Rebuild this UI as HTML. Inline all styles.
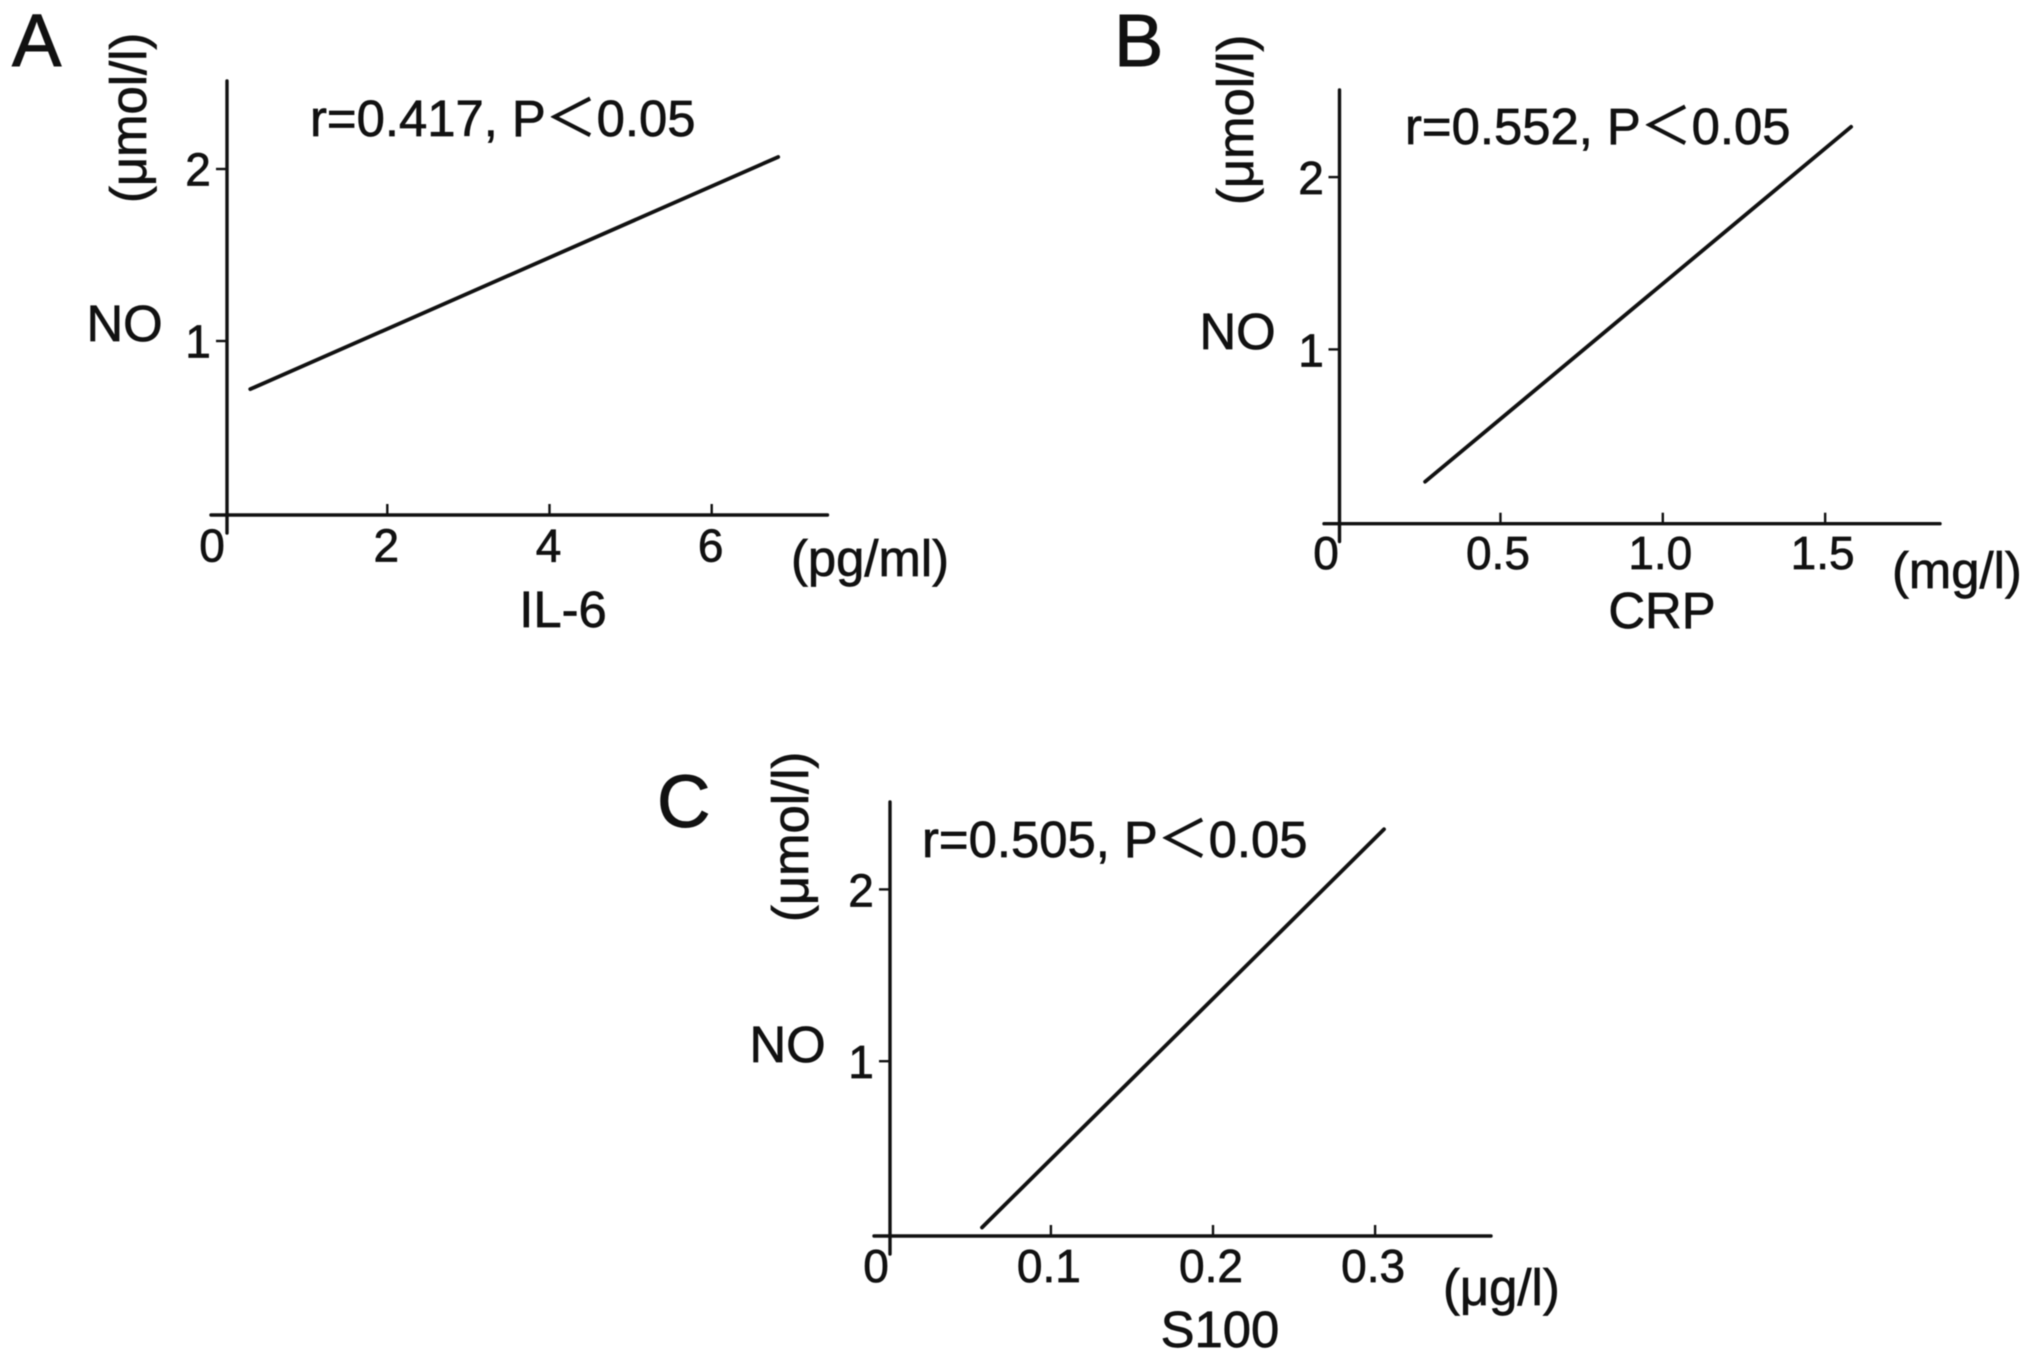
<!DOCTYPE html>
<html lang="en">
<head>
<meta charset="utf-8">
<title>NO correlation with IL-6, CRP and S100</title>
<style>
  html, body { margin: 0; padding: 0; background: #fff; }
  #figure { display: block; width: 2031px; height: 1361px; filter: blur(0.6px); }
  text { font-family: "Liberation Sans", "Noto Sans CJK SC", sans-serif; fill: #111; stroke: #111; stroke-width: 0.7; font-size: 50.8px; }
  .tick-text { font-size: 46px; text-anchor: middle; }
  .letter { font-size: 74px; stroke-width: 1; }
  .axis { stroke: #111; stroke-width: 3.4; fill: none; stroke-linecap: round; }
  .tick { stroke: #111; stroke-width: 2.4; fill: none; }
  .fit { stroke: #111; stroke-width: 3.8; fill: none; stroke-linecap: round; }
</style>
</head>
<body>
<svg id="figure" xmlns="http://www.w3.org/2000/svg" width="2031" height="1361" viewBox="0 0 2031 1361">
  <rect width="2031" height="1361" fill="#fff"/>

  <g id="panel-a">
    <text class="letter" x="12" y="66">A</text>
    <text transform="translate(146,203) rotate(-90)">(μmol/l)</text>
    <text x="86.5" y="341">NO</text>
    <text x="791" y="576">(pg/ml)</text>
    <text x="563" y="627" text-anchor="middle">IL-6</text>
    <text x="310" y="136">r=0.417, P＜0.05</text>
  </g>

  <g id="panel-b">
    <text class="letter" x="1114" y="66">B</text>
    <text transform="translate(1253,205) rotate(-90)">(μmol/l)</text>
    <text x="1199.5" y="349">NO</text>
    <text x="1892" y="588">(mg/l)</text>
    <text x="1662" y="628" text-anchor="middle">CRP</text>
    <text x="1405" y="144">r=0.552, P＜0.05</text>
  </g>

  <g id="panel-c">
    <text class="letter" x="657" y="827">C</text>
    <text transform="translate(808,922) rotate(-90)">(μmol/l)</text>
    <text x="749.5" y="1062">NO</text>
    <text x="1443" y="1305">(μg/l)</text>
    <text x="1220" y="1347" text-anchor="middle">S100</text>
    <text x="922" y="857">r=0.505, P＜0.05</text>
  </g>
</svg>

<script>
// Chart values
var aXTicks = [2, 4, 6];
var aXTickLabels = ['2', '4', '6'];
var aYTicks = [1, 2];
var aYTickLabels = ['1', '2'];
var aFitX = [0.31, 6.82];
var aFitY = [0.72, 2.07];

var bXTicks = [0.5, 1.0, 1.5];
var bXTickLabels = ['0.5', '1.0', '1.5'];
var bYTicks = [1, 2];
var bYTickLabels = ['1', '2'];
var bFitX = [0.268, 1.58];
var bFitY = [0.232, 2.292];

var cXTicks = [0.1, 0.2, 0.3];
var cXTickLabels = ['0.1', '0.2', '0.3'];
var cYTicks = [1, 2];
var cYTickLabels = ['1', '2'];
var cFitX = [0.0575, 0.3055];
var cFitY = [0.032, 2.35];

var SVG_NS = 'http://www.w3.org/2000/svg';

function make(tag, parent, attrs) {
  var el = document.createElementNS(SVG_NS, tag);
  for (var k in attrs) el.setAttribute(k, attrs[k]);
  parent.appendChild(el);
  return el;
}

function drawPanel(groupId, frame, xTicks, xLabels, yTicks, yLabels, fitX, fitY) {
  var group = document.getElementById(groupId);
  var xScale = function (v) { return frame.x0 + v * frame.xUnit; };
  var yScale = function (v) { return frame.y0 - v * frame.yUnit; };

  var yAxis = make('line', group, { x1: frame.axisX, x2: frame.axisX, y1: frame.axisTop, y2: frame.axisBottom, 'class': 'axis' });
  
  

  var xAxis = make('line', group, { x1: frame.axisLeft, x2: frame.axisRight, y1: frame.axisY, y2: frame.axisY, 'class': 'axis' });
  
  

  xTicks.forEach(function (v, i) {
    var tick = make('line', group, { x1: xScale(v), x2: xScale(v), y1: frame.axisY, y2: frame.axisY - 11, 'class': 'tick' });
    
    
    var label = make('text', group, { x: xScale(v) + frame.xLabelDx, y: frame.xLabelY, 'class': 'tick-text' });
    label.textContent = xLabels[i];
    
    
  });

  yTicks.forEach(function (v, i) {
    var tick = make('line', group, { x1: frame.axisX, x2: frame.axisX - 11, y1: yScale(v), y2: yScale(v), 'class': 'tick' });
    
    
    var label = make('text', group, { x: frame.yLabelX, y: yScale(v) + frame.yLabelDy, 'class': 'tick-text' });
    label.textContent = yLabels[i];
    
    
  });

  var origin = make('text', group, { x: frame.zeroX, y: frame.xLabelY, 'class': 'tick-text' });
  origin.textContent = '0';
  
  

  var points = fitX.map(function (v, i) { return xScale(v) + ',' + yScale(fitY[i]); }).join(' ');
  var fit = make('polyline', group, { points: points, 'class': 'fit' });
  
  
}

drawPanel('panel-a',
  { x0: 225.1, xUnit: 81.1, y0: 513, yUnit: 172, axisX: 227, axisTop: 81, axisBottom: 533, axisY: 515, axisLeft: 211, axisRight: 827.5, xLabelY: 561.5, xLabelDx: -1, yLabelX: 198, yLabelDy: 16.5, zeroX: 212 },
  aXTicks, aXTickLabels, aYTicks, aYTickLabels, aFitX, aFitY);

drawPanel('panel-b',
  { x0: 1338.1, xUnit: 324.7, y0: 521.7, yUnit: 172.3, axisX: 1339.5, axisTop: 90, axisBottom: 541.5, axisY: 523.7, axisLeft: 1324, axisRight: 1940, xLabelY: 569, xLabelDx: -2.5, yLabelX: 1311, yLabelDy: 17, zeroX: 1326 },
  bXTicks, bXTickLabels, bYTicks, bYTickLabels, bFitX, bFitY);

drawPanel('panel-c',
  { x0: 888.8, xUnit: 1621, y0: 1233, yUnit: 171.8, axisX: 890, axisTop: 802, axisBottom: 1254, axisY: 1236, axisLeft: 874, axisRight: 1491, xLabelY: 1282, xLabelDx: -2, yLabelX: 861, yLabelDy: 17, zeroX: 876 },
  cXTicks, cXTickLabels, cYTicks, cYTickLabels, cFitX, cFitY);
</script>
</body>
</html>
